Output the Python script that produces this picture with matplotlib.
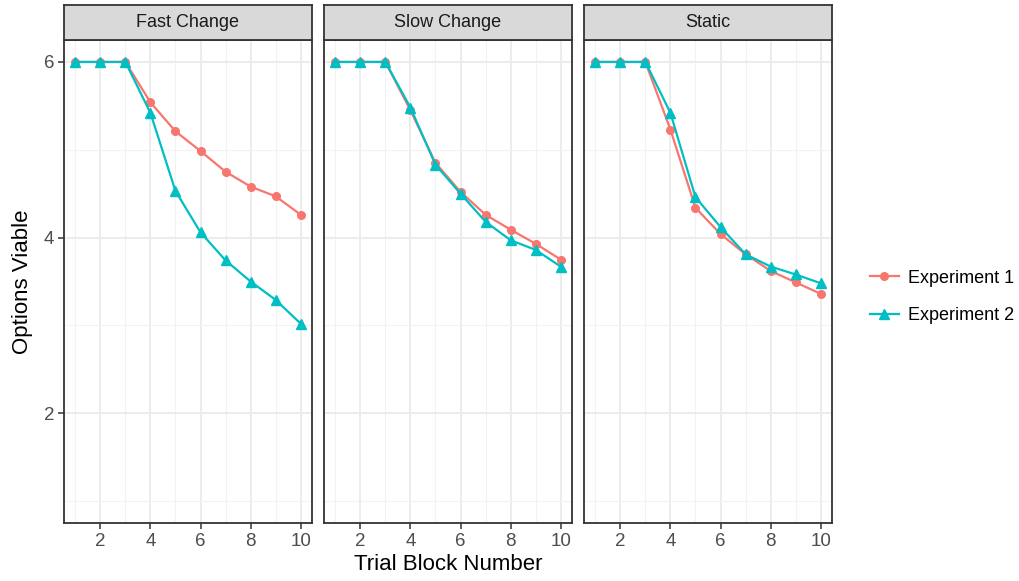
import numpy as np
import matplotlib
matplotlib.use("Agg")
import matplotlib.pyplot as plt
from matplotlib.lines import Line2D

plt.rcParams['font.family'] = ['Liberation Sans', 'DejaVu Sans']

blocks = [1, 2, 3, 4, 5, 6, 7, 8, 9, 10]
conditions = ["Fast Change", "Slow Change", "Static"]
exp1 = {
    "Fast Change": [6, 6, 6, 5.54, 5.21, 4.985, 4.75, 4.58, 4.47, 4.26],
    "Slow Change": [6, 6, 6, 5.45, 4.85, 4.52, 4.26, 4.09, 3.93, 3.75],
    "Static":      [6, 6, 6, 5.23, 4.34, 4.04, 3.81, 3.62, 3.49, 3.36],
}
exp2 = {
    "Fast Change": [6, 6, 6, 5.42, 4.53, 4.06, 3.74, 3.50, 3.29, 3.02],
    "Slow Change": [6, 6, 6, 5.48, 4.83, 4.50, 4.18, 3.97, 3.86, 3.67],
    "Static":      [6, 6, 6, 5.42, 4.46, 4.12, 3.81, 3.67, 3.58, 3.48],
}
series_names = ["Experiment 1", "Experiment 2"]

c1 = "#F8766D"
c2 = "#00BFC4"
border = "#333333"

W, H = 1020, 581
fig = plt.figure(figsize=(W / 100, H / 100), dpi=100)

lefts = [64, 324, 584]
pw = 248
top, bottom = 40, 523
strip_top = 5

for i, cond in enumerate(conditions):
    ax = fig.add_axes([lefts[i] / W, (H - bottom) / H, pw / W, (bottom - top) / H])
    ax.plot(blocks, exp1[cond], color=c1, marker="o", markersize=5.5, lw=1.6, zorder=3)
    ax.plot(blocks, exp2[cond], color=c2, marker="^", markersize=6.5, lw=1.6, zorder=4)
    ax.set_xlim(0.55, 10.45)
    ax.set_ylim(0.75, 6.25)
    ax.set_xticks([2, 4, 6, 8, 10])
    ax.set_xticks([1, 3, 5, 7, 9], minor=True)
    ax.set_yticks([2, 4, 6])
    ax.set_yticks([1, 3, 5], minor=True)
    ax.grid(which="major", color="#EBEBEB", lw=1.3)
    ax.grid(which="minor", color="#F2F2F2", lw=0.8)
    ax.set_axisbelow(True)
    for s in ax.spines.values():
        s.set_color(border)
        s.set_linewidth(1.3)
    ax.tick_params(which="major", length=4, width=1.1, color=border,
                   labelsize=13.5, labelcolor="#4D4D4D", pad=3)
    ax.tick_params(which="minor", length=0)
    if i > 0:
        ax.tick_params(axis="y", which="both", length=0, labelleft=False)
    else:
        ax.set_ylabel("Options Viable", fontsize=16, labelpad=8)
    if i == 1:
        ax.set_xlabel("Trial Block Number", fontsize=16, labelpad=3)

    sax = fig.add_axes([lefts[i] / W, (H - top) / H, pw / W, (top - strip_top) / H])
    sax.set_facecolor("#D9D9D9")
    sax.set_xticks([])
    sax.set_yticks([])
    for s in sax.spines.values():
        s.set_color(border)
        s.set_linewidth(1.3)
    sax.text(0.5, 0.5, cond, ha="center", va="center", fontsize=13,
             color="#1A1A1A", transform=sax.transAxes)

handles = [
    Line2D([], [], color=c1, marker="o", markersize=5.5, lw=1.6),
    Line2D([], [], color=c2, marker="^", markersize=6.5, lw=1.6),
]
fig.legend(handles, series_names, loc="center left", bbox_to_anchor=(870 / W, 0.489),
           frameon=False, fontsize=13, handlelength=1.6, labelspacing=1.15,
           handletextpad=0.5, borderpad=0, borderaxespad=0)

fig.savefig("out.png", dpi=100)
